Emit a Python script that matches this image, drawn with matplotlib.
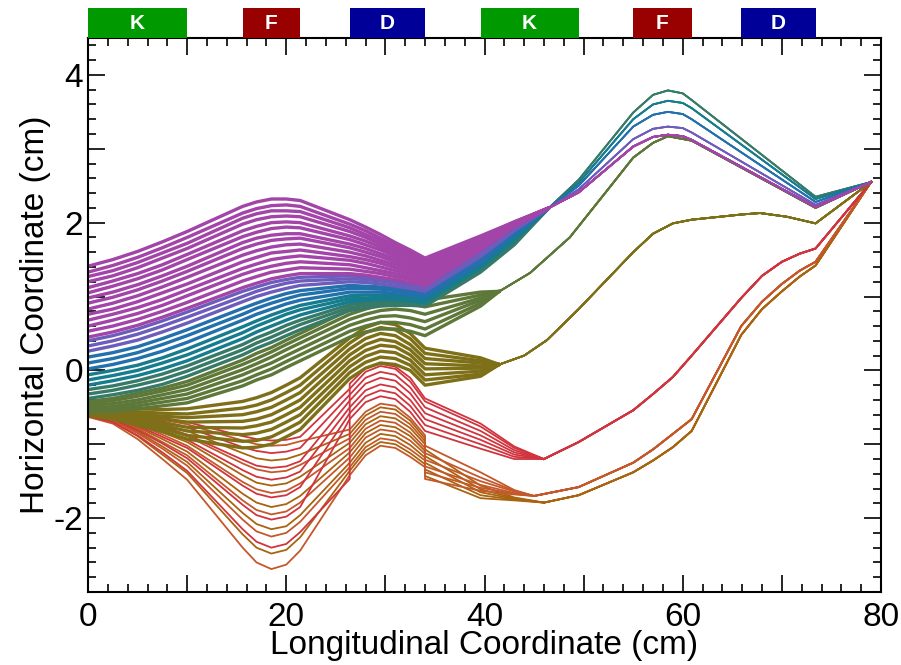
import matplotlib
matplotlib.use('Agg')
from matplotlib import pyplot as plt
from matplotlib.patches import Rectangle
from matplotlib.ticker import MultipleLocator, FuncFormatter

plt.rcParams['font.family'] = ['Liberation Sans', 'DejaVu Sans']

# lattice elements drawn in the strip above the plot
elem_names = ['K', 'F', 'D', 'K', 'F', 'D']
elem_start = [0.0, 15.6, 26.4, 39.6, 55.0, 65.9]
elem_end = [10.0, 21.4, 34.0, 49.5, 60.9, 73.4]
elem_colors = {'K': '#009900', 'F': '#990000', 'D': '#000099'}

# longitudinal knots in the first cell (cm); straight drifts between elements
x_left = [0, 2.5, 5, 7.5, 10, 15.6, 17, 18.5, 20, 21.4, 26.4, 28, 29.5, 31, 32.5, 34]

# ---------------- upper bundle ----------------
upper_mid_x = [39.6, 43]
upper_tail_x = [46.5, 49.5, 55, 57, 58.5, 60, 60.9, 73.4, 79]

purple_left = [
    [1.41, 1.50, 1.61, 1.74, 1.88, 2.22, 2.28, 2.32, 2.32, 2.30, 2.04, 1.94, 1.84, 1.73, 1.63, 1.52],
    [1.33, 1.42, 1.53, 1.66, 1.80, 2.13, 2.19, 2.23, 2.24, 2.22, 1.98, 1.89, 1.79, 1.69, 1.59, 1.49],
    [1.27, 1.35, 1.46, 1.59, 1.72, 2.06, 2.12, 2.16, 2.16, 2.15, 1.93, 1.84, 1.75, 1.66, 1.56, 1.46],
    [1.20, 1.28, 1.39, 1.52, 1.65, 1.98, 2.04, 2.08, 2.09, 2.08, 1.88, 1.80, 1.71, 1.62, 1.53, 1.44],
    [1.12, 1.21, 1.31, 1.43, 1.57, 1.89, 1.95, 2.00, 2.01, 2.00, 1.82, 1.75, 1.67, 1.58, 1.50, 1.41],
    [1.05, 1.14, 1.24, 1.36, 1.50, 1.81, 1.87, 1.92, 1.94, 1.93, 1.77, 1.70, 1.63, 1.55, 1.47, 1.38],
    [0.98, 1.06, 1.16, 1.28, 1.41, 1.73, 1.79, 1.83, 1.85, 1.85, 1.71, 1.65, 1.58, 1.51, 1.43, 1.35],
    [0.91, 0.99, 1.09, 1.21, 1.34, 1.65, 1.71, 1.76, 1.78, 1.79, 1.66, 1.60, 1.54, 1.47, 1.40, 1.33],
    [0.83, 0.91, 1.01, 1.13, 1.26, 1.56, 1.62, 1.67, 1.70, 1.71, 1.60, 1.55, 1.49, 1.43, 1.37, 1.30],
    [0.76, 0.83, 0.93, 1.05, 1.17, 1.47, 1.53, 1.59, 1.61, 1.63, 1.54, 1.50, 1.45, 1.39, 1.33, 1.27],
    [0.68, 0.76, 0.85, 0.96, 1.09, 1.38, 1.44, 1.50, 1.53, 1.55, 1.49, 1.45, 1.40, 1.35, 1.30, 1.24],
    [0.60, 0.68, 0.77, 0.88, 1.01, 1.30, 1.36, 1.41, 1.45, 1.47, 1.43, 1.39, 1.35, 1.31, 1.26, 1.21],
    [0.53, 0.60, 0.69, 0.80, 0.92, 1.21, 1.27, 1.33, 1.36, 1.39, 1.37, 1.34, 1.31, 1.27, 1.23, 1.18],
    [0.45, 0.52, 0.61, 0.72, 0.84, 1.12, 1.18, 1.24, 1.28, 1.31, 1.31, 1.29, 1.26, 1.23, 1.19, 1.15],
]
purple_mid = [[1.82, 2.01], [1.80, 2.01], [1.79, 2.00], [1.77, 2.00], [1.76, 1.99],
              [1.74, 1.99], [1.73, 1.98], [1.71, 1.98], [1.70, 1.97], [1.68, 1.97],
              [1.67, 1.96], [1.66, 1.96], [1.64, 1.95], [1.63, 1.95]]
purple_tail = [2.20, 2.41, 3.03, 3.16, 3.19, 3.17, 3.12, 2.21, 2.55]

violet_left = [
    [0.40, 0.47, 0.56, 0.67, 0.79, 1.07, 1.13, 1.19, 1.23, 1.26, 1.28, 1.26, 1.24, 1.21, 1.17, 1.13],
    [0.33, 0.40, 0.49, 0.60, 0.72, 1.00, 1.07, 1.13, 1.18, 1.21, 1.24, 1.23, 1.21, 1.18, 1.14, 1.10],
    [0.26, 0.33, 0.41, 0.52, 0.64, 0.93, 1.00, 1.06, 1.11, 1.15, 1.20, 1.19, 1.17, 1.14, 1.11, 1.07],
]
violet_mid = [[1.60, 1.93], [1.57, 1.91], [1.54, 1.89]]
violet_tail = [2.20, 2.45, 3.13, 3.27, 3.30, 3.28, 3.22, 2.24, 2.55]

blue_left = [
    [0.18, 0.24, 0.32, 0.43, 0.55, 0.84, 0.91, 0.98, 1.04, 1.08, 1.15, 1.14, 1.13, 1.11, 1.08, 1.05],
    [0.10, 0.16, 0.24, 0.35, 0.47, 0.76, 0.84, 0.91, 0.97, 1.02, 1.11, 1.11, 1.10, 1.08, 1.05, 1.02],
    [0.02, 0.08, 0.16, 0.26, 0.38, 0.68, 0.76, 0.83, 0.90, 0.95, 1.06, 1.06, 1.06, 1.04, 1.02, 0.99],
]
blue_mid = [[1.51, 1.87], [1.48, 1.85], [1.45, 1.83]]
blue_tail = [2.20, 2.50, 3.30, 3.46, 3.50, 3.47, 3.40, 2.28, 2.55]

teal_left = [
    [-0.06, 0.00, 0.07, 0.17, 0.29, 0.59, 0.67, 0.75, 0.82, 0.88, 1.01, 1.02, 1.02, 1.01, 0.99, 0.97],
    [-0.13, -0.07, 0.00, 0.10, 0.21, 0.51, 0.60, 0.68, 0.76, 0.82, 0.97, 0.98, 0.99, 0.98, 0.96, 0.94],
    [-0.20, -0.14, -0.07, 0.02, 0.13, 0.43, 0.52, 0.60, 0.68, 0.75, 0.93, 0.95, 0.96, 0.96, 0.94, 0.92],
]
teal_mid = [[1.43, 1.81], [1.41, 1.78], [1.39, 1.76]]
teal_tail = [2.20, 2.54, 3.40, 3.60, 3.65, 3.62, 3.55, 2.32, 2.55]

tealgreen_left = [
    [-0.26, -0.21, -0.14, -0.05, 0.06, 0.35, 0.44, 0.52, 0.61, 0.68, 0.89, 0.92, 0.93, 0.93, 0.92, 0.91],
    [-0.32, -0.27, -0.20, -0.12, -0.01, 0.28, 0.37, 0.45, 0.54, 0.62, 0.85, 0.88, 0.90, 0.91, 0.90, 0.89],
    [-0.38, -0.33, -0.27, -0.19, -0.08, 0.21, 0.30, 0.38, 0.47, 0.55, 0.81, 0.84, 0.87, 0.88, 0.88, 0.87],
]
tealgreen_mid = [[1.37, 1.74], [1.35, 1.72], [1.33, 1.70]]
tealgreen_tail = [2.20, 2.58, 3.49, 3.73, 3.79, 3.75, 3.66, 2.35, 2.55]

# ---------------- green bundle ----------------
green_left = [
    [-0.42, -0.38, -0.31, -0.24, -0.15, 0.14, 0.23, 0.31, 0.41, 0.50, 0.82, 0.90, 0.96, 1.00, 0.99, 0.95],
    [-0.45, -0.41, -0.35, -0.28, -0.20, 0.08, 0.16, 0.25, 0.35, 0.44, 0.76, 0.83, 0.89, 0.92, 0.90, 0.86],
    [-0.48, -0.45, -0.40, -0.33, -0.26, 0.01, 0.09, 0.18, 0.28, 0.37, 0.69, 0.76, 0.81, 0.83, 0.81, 0.76],
    [-0.51, -0.49, -0.44, -0.38, -0.32, -0.06, 0.02, 0.10, 0.20, 0.29, 0.61, 0.68, 0.73, 0.74, 0.71, 0.66],
    [-0.54, -0.52, -0.48, -0.43, -0.38, -0.14, -0.06, 0.02, 0.12, 0.21, 0.53, 0.60, 0.65, 0.65, 0.62, 0.56],
    [-0.57, -0.56, -0.52, -0.48, -0.44, -0.21, -0.13, -0.06, 0.04, 0.13, 0.45, 0.52, 0.56, 0.56, 0.53, 0.47],
]
green_mid_x = [39.6]
green_mid = [[1.06], [1.02], [0.98], [0.95], [0.91], [0.87]]
green_tail_x = [41.5, 44.6, 48.6, 52.4, 55, 57, 58.5, 60.9, 73.4, 79]
green_tail = [1.07, 1.32, 1.80, 2.44, 2.88, 3.08, 3.17, 3.11, 2.20, 2.55]

# ---------------- olive bundle ----------------
olive_left = [
    [-0.50, -0.51, -0.52, -0.53, -0.52, -0.42, -0.37, -0.30, -0.20, -0.10, 0.44, 0.58, 0.65, 0.62, 0.50, 0.30],
    [-0.52, -0.54, -0.56, -0.58, -0.59, -0.51, -0.47, -0.40, -0.30, -0.20, 0.37, 0.51, 0.58, 0.55, 0.43, 0.23],
    [-0.54, -0.56, -0.59, -0.62, -0.64, -0.60, -0.56, -0.50, -0.40, -0.30, 0.29, 0.43, 0.50, 0.47, 0.35, 0.16],
    [-0.55, -0.58, -0.62, -0.66, -0.70, -0.69, -0.66, -0.60, -0.50, -0.40, 0.21, 0.35, 0.42, 0.39, 0.28, 0.09],
    [-0.57, -0.60, -0.65, -0.71, -0.77, -0.78, -0.75, -0.70, -0.60, -0.50, 0.13, 0.27, 0.34, 0.32, 0.21, 0.02],
    [-0.58, -0.62, -0.68, -0.75, -0.82, -0.87, -0.85, -0.80, -0.70, -0.60, 0.05, 0.19, 0.26, 0.24, 0.14, -0.06],
    [-0.60, -0.64, -0.71, -0.79, -0.88, -0.96, -0.95, -0.90, -0.80, -0.70, -0.03, 0.11, 0.18, 0.16, 0.07, -0.13],
    [-0.61, -0.66, -0.74, -0.83, -0.93, -1.05, -1.04, -1.00, -0.90, -0.80, -0.11, 0.03, 0.10, 0.08, 0.00, -0.20],
]
olive_mid_x = [39.6]
olive_mid = [[0.17], [0.13], [0.10], [0.06], [0.03], [-0.01], [-0.05], [-0.08]]
olive_tail_x = [41.5, 44, 46.3, 49.5, 55, 57, 59, 60.9, 65.9, 67.8, 70.5, 73.4, 79]
olive_tail = [0.08, 0.20, 0.41, 0.83, 1.60, 1.85, 1.99, 2.04, 2.11, 2.13, 2.08, 1.99, 2.55]

# ---------------- lower fan: red / orange / brown ----------------
# red knots repeat 26.4 because one trajectory jumps at the D entrance
red_x_left = [0, 2.5, 5, 7.5, 10, 15.6, 17, 18.5, 20, 21.4, 26.4, 26.4, 28, 29.5, 31, 32.5, 34]
red_left = [
    [-0.52, -0.54, -0.58, -0.64, -0.70, -0.89, -0.93, -0.95, -0.94, -0.90, -0.25, -0.25, -0.02, 0.06, 0.02, -0.15, -0.42],
    [-0.53, -0.56, -0.62, -0.69, -0.77, -1.04, -1.09, -1.12, -1.10, -1.05, -0.33, -0.33, -0.10, -0.02, -0.06, -0.23, -0.50],
    [-0.55, -0.58, -0.66, -0.76, -0.87, -1.21, -1.29, -1.32, -1.30, -1.23, -0.41, -0.41, -0.18, -0.10, -0.14, -0.31, -0.58],
    [-0.56, -0.60, -0.69, -0.81, -0.94, -1.35, -1.44, -1.48, -1.45, -1.37, -0.50, -0.50, -0.27, -0.19, -0.23, -0.40, -0.66],
    [-0.58, -0.63, -0.75, -0.90, -1.05, -1.56, -1.67, -1.72, -1.69, -1.58, -0.58, -0.58, -0.35, -0.27, -0.31, -0.48, -0.74],
    [-0.60, -0.66, -0.81, -0.99, -1.19, -1.82, -1.96, -2.02, -1.98, -1.85, -0.66, -0.66, -0.43, -0.35, -0.39, -0.56, -0.82],
    [-0.62, -0.70, -0.88, -1.11, -1.36, -2.15, -2.32, -2.40, -2.35, -2.19, -1.47, -0.18, 0.03, 0.09, 0.05, -0.10, -0.38],
]
red_mid_x = [39.6, 43]
red_mid = [[-0.76, -1.05], [-0.82, -1.08], [-0.88, -1.11], [-0.94, -1.14],
           [-1.00, -1.17], [-1.06, -1.20], [-0.72, -1.03]]
red_tail_x = [46, 49.5, 55, 57, 59, 60.9, 65.9, 68, 70, 71.8, 73.4, 79]
red_tail = [-1.20, -0.97, -0.54, -0.32, -0.09, 0.20, 0.98, 1.28, 1.47, 1.58, 1.65, 2.55]

orange_left = [
    [-0.53, -0.55, -0.60, -0.67, -0.73, -0.95, -1.00, -1.02, -1.01, -0.96, -0.80, -0.56, -0.45, -0.48, -0.64, -0.88],
    [-0.55, -0.59, -0.67, -0.78, -0.89, -1.26, -1.34, -1.38, -1.36, -1.28, -0.92, -0.67, -0.56, -0.59, -0.73, -0.96],
    [-0.57, -0.62, -0.73, -0.87, -1.02, -1.51, -1.61, -1.66, -1.63, -1.53, -1.05, -0.79, -0.68, -0.71, -0.84, -1.05],
    [-0.59, -0.65, -0.79, -0.97, -1.15, -1.76, -1.89, -1.95, -1.91, -1.79, -1.18, -0.91, -0.80, -0.83, -0.95, -1.13],
    [-0.61, -0.68, -0.85, -1.06, -1.29, -2.02, -2.18, -2.25, -2.20, -2.05, -1.31, -1.04, -0.92, -0.95, -1.07, -1.22],
    [-0.63, -0.72, -0.93, -1.20, -1.48, -2.40, -2.60, -2.69, -2.63, -2.44, -1.42, -1.15, -1.02, -1.05, -1.17, -1.31],
]
orange_mid_x = [34, 39.6, 43]
orange_mid = [[-1.02, -1.38, -1.62], [-1.12, -1.45, -1.63], [-1.21, -1.50, -1.64],
              [-1.30, -1.55, -1.66], [-1.38, -1.59, -1.67], [-1.47, -1.63, -1.68]]
orange_tail_x = [45, 49.5, 55, 57, 59, 60.9, 65.9, 68, 70, 71.8, 73.4, 79]
orange_tail = [-1.70, -1.58, -1.25, -1.07, -0.86, -0.66, 0.60, 0.93, 1.17, 1.35, 1.47, 2.55]

brown_left = [
    [-0.54, -0.57, -0.64, -0.73, -0.82, -1.12, -1.19, -1.22, -1.20, -1.14, -0.86, -0.61, -0.50, -0.53, -0.68, -0.92],
    [-0.56, -0.60, -0.71, -0.84, -0.97, -1.42, -1.52, -1.56, -1.53, -1.44, -0.98, -0.73, -0.62, -0.65, -0.78, -1.00],
    [-0.58, -0.64, -0.77, -0.93, -1.10, -1.67, -1.79, -1.85, -1.81, -1.70, -1.11, -0.85, -0.74, -0.77, -0.89, -1.09],
    [-0.60, -0.67, -0.83, -1.03, -1.24, -1.93, -2.08, -2.15, -2.11, -1.96, -1.25, -0.98, -0.86, -0.89, -1.01, -1.18],
    [-0.62, -0.70, -0.89, -1.14, -1.39, -2.22, -2.40, -2.48, -2.43, -2.26, -1.36, -1.09, -0.97, -1.00, -1.12, -1.27],
]
brown_mid_x = [34, 39.6, 43]
brown_mid = [[-1.07, -1.56, -1.72], [-1.16, -1.61, -1.73], [-1.25, -1.65, -1.74],
             [-1.34, -1.69, -1.75], [-1.43, -1.73, -1.76]]
brown_tail_x = [46, 49.5, 55, 57, 59, 60.9, 65.9, 68, 70, 71.8, 73.4, 79]
brown_tail = [-1.79, -1.69, -1.38, -1.22, -1.04, -0.82, 0.48, 0.83, 1.07, 1.27, 1.42, 2.55]

# (left knots, left rows, mid knots, mid rows, tail knots, tail, colour, bundle width)
bundles = [
    (x_left, brown_left, brown_mid_x, brown_mid, brown_tail_x, brown_tail, '#a8640e', 1.3),
    (x_left, orange_left, orange_mid_x, orange_mid, orange_tail_x, orange_tail, '#c4582a', 1.3),
    (red_x_left, red_left, red_mid_x, red_mid, red_tail_x, red_tail, '#d0343e', 1.3),
    (x_left, olive_left, olive_mid_x, olive_mid, olive_tail_x, olive_tail, '#7e7018', 2.4),
    (x_left, green_left, green_mid_x, green_mid, green_tail_x, green_tail, '#5e783a', 2.4),
    (x_left, tealgreen_left, upper_mid_x, tealgreen_mid, upper_tail_x, tealgreen_tail, '#387a68', 2.4),
    (x_left, teal_left, upper_mid_x, teal_mid, upper_tail_x, teal_tail, '#167c8e', 2.4),
    (x_left, blue_left, upper_mid_x, blue_mid, upper_tail_x, blue_tail, '#2270ac', 2.4),
    (x_left, violet_left, upper_mid_x, violet_mid, upper_tail_x, violet_tail, '#6c5cbc', 2.4),
    (x_left, purple_left, upper_mid_x, purple_mid, upper_tail_x, purple_tail, '#a244a8', 2.4),
]

fig = plt.figure(figsize=(9.01, 6.65), dpi=100)
ax = fig.add_axes([0.0977, 0.1098, 0.8801, 0.8331])

for xl, left, mid_x, mids, tail_x, tail, col, lw in bundles:
    for ys, ym in zip(left, mids):
        # spread part of the bundle, up to where it merges
        xs = list(xl) + list(mid_x) + [tail_x[0]]
        yy = list(ys) + list(ym) + [tail[0]]
        ax.plot(xs, yy, color=col, lw=lw, solid_joinstyle='round', solid_capstyle='round')
        # merged part
        ax.plot(tail_x, tail, color=col, lw=1.3, solid_joinstyle='round')

ax.set_xlim(0, 80)
ax.set_ylim(-3, 4.5)
ax.xaxis.set_major_locator(MultipleLocator(10))
ax.xaxis.set_minor_locator(MultipleLocator(2))
ax.yaxis.set_major_locator(MultipleLocator(1))
ax.yaxis.set_minor_locator(MultipleLocator(0.2))
ax.xaxis.set_major_formatter(FuncFormatter(lambda v, p: '%d' % v if round(v) % 20 == 0 else ''))
ax.yaxis.set_major_formatter(FuncFormatter(lambda v, p: '%d' % v if round(v) % 2 == 0 else ''))
ax.tick_params(which='both', direction='in', top=True, right=True, labelsize=24, width=1.2)
ax.tick_params(which='major', length=12)
ax.tick_params(which='minor', length=6)
ax.tick_params(axis='x', pad=7)
for s in ax.spines.values():
    s.set_linewidth(1.5)
ax.set_xlabel('Longitudinal Coordinate (cm)', fontsize=24, labelpad=-2)
ax.set_ylabel('Horizontal Coordinate (cm)', fontsize=24, labelpad=2)

# element strip
bar = fig.add_axes([0.0977, 0.9429, 0.8801, 0.045])
bar.set_xlim(0, 80)
bar.set_ylim(0, 1)
bar.axis('off')
for nm, x0, x1 in zip(elem_names, elem_start, elem_end):
    bar.add_patch(Rectangle((x0, 0), x1 - x0, 1, color=elem_colors[nm], lw=0))
    bar.text((x0 + x1) / 2, 0.5, nm, color='white', fontsize=15, fontweight='bold',
             ha='center', va='center')

fig.savefig('out.png', dpi=100)
